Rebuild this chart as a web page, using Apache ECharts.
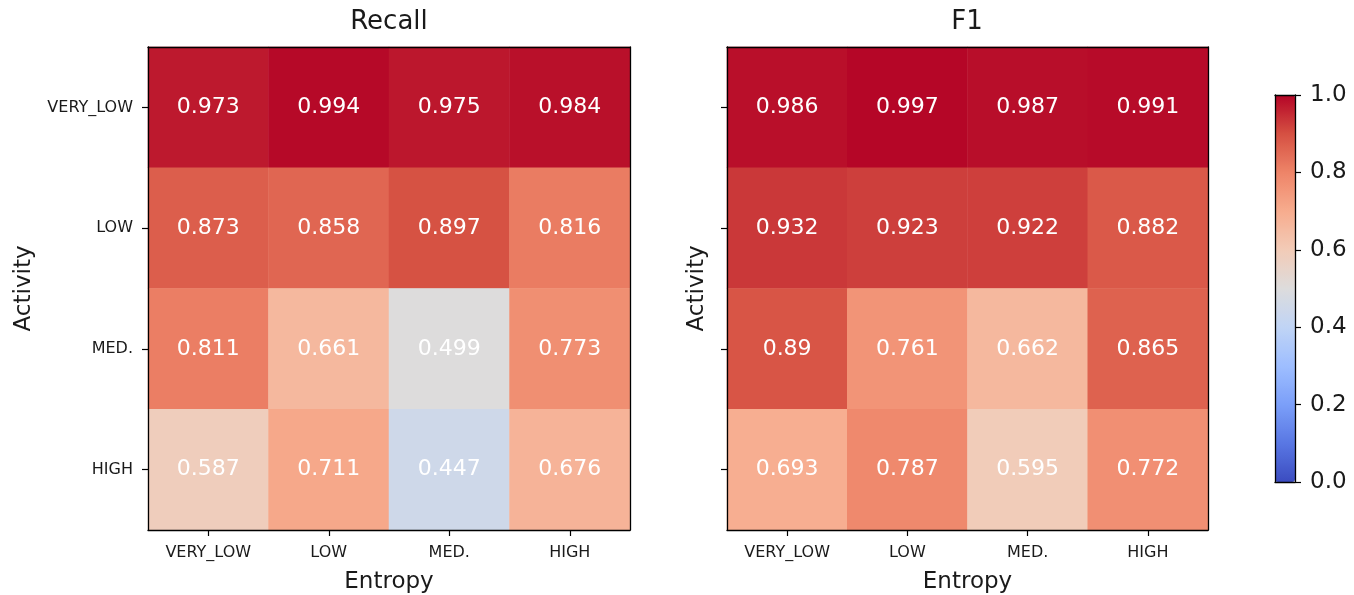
<!DOCTYPE html>
<html>
<head>
<meta charset="utf-8">
<script src="https://cdn.jsdelivr.net/npm/echarts@6/dist/echarts.min.js"></script>
<style>html,body{margin:0;padding:0;background:#fff}#c{width:1354px;height:595px}</style>
</head>
<body>
<div id="c"></div>
<script>
const entropyCats = ['VERY_LOW', 'LOW', 'MED.', 'HIGH'];
const activityCats = ['VERY_LOW', 'LOW', 'MED.', 'HIGH'];
const panelTitles = ['Recall', 'F1'];
// rows = activity (top to bottom), columns = entropy
const recallValues = [
  [0.973, 0.994, 0.975, 0.984],
  [0.873, 0.858, 0.897, 0.816],
  [0.811, 0.661, 0.499, 0.773],
  [0.587, 0.711, 0.447, 0.676]
];
const f1Values = [
  [0.986, 0.997, 0.987, 0.991],
  [0.932, 0.923, 0.922, 0.882],
  [0.89, 0.761, 0.662, 0.865],
  [0.693, 0.787, 0.595, 0.772]
];
const colorbarTicks = [0.0, 0.2, 0.4, 0.6, 0.8, 1.0];
const coolwarm = ['#3b4cc0','#5977e3','#7b9ff9','#9ebeff','#c0d4f5','#dddcdc','#f2cbb7','#f7ac8e','#ee8468','#d55042','#b40426'];

const FONT = 'DejaVu Sans';
const TXT = '#1a1a1a';

function toCells(m) {
  const out = [];
  m.forEach((row, r) => row.forEach((v, c) => out.push([c, r, v])));
  return out;
}

const grids = [
  {left: 148, top: 47, width: 482, height: 483, containLabel: false, outerBoundsMode: 'none'},
  {left: 727, top: 47, width: 481, height: 483, containLabel: false, outerBoundsMode: 'none'},
  {left: 1275, top: 95, width: 20, height: 387, containLabel: false, outerBoundsMode: 'none'}
];

const xAxes = [], yAxes = [];
[0, 1].forEach(g => {
  xAxes.push({
    type: 'category', gridIndex: g, data: entropyCats, position: 'bottom', z: 10,
    name: 'Entropy', nameLocation: 'middle', nameGap: 41,
    nameTextStyle: {fontFamily: FONT, fontSize: 23, color: TXT},
    axisLine: {show: true, lineStyle: {color: '#000', width: 1.3}},
    axisTick: {show: true, alignWithLabel: true, length: 6, lineStyle: {color: '#000', width: 1.2}},
    axisLabel: {fontFamily: FONT, fontSize: 16, color: TXT, margin: 15},
    splitLine: {show: false}
  });
  xAxes.push({
    type: 'category', gridIndex: g, data: entropyCats, position: 'top', z: 10,
    axisLine: {show: true, lineStyle: {color: '#000', width: 1.3}},
    axisTick: {show: false}, axisLabel: {show: false}, splitLine: {show: false}
  });
  yAxes.push({
    type: 'category', gridIndex: g, data: activityCats, inverse: true, position: 'left', z: 10,
    name: 'Activity', nameLocation: 'middle', nameGap: g === 0 ? 112 : 18,
    nameTextStyle: {fontFamily: FONT, fontSize: 23, color: TXT},
    axisLine: {show: true, lineStyle: {color: '#000', width: 1.3}},
    axisTick: {show: true, alignWithLabel: true, length: 6, lineStyle: {color: '#000', width: 1.2}},
    axisLabel: {show: g === 0, fontFamily: FONT, fontSize: 16, color: TXT, margin: 15},
    splitLine: {show: false}
  });
  yAxes.push({
    type: 'category', gridIndex: g, data: activityCats, inverse: true, position: 'right', z: 10,
    axisLine: {show: true, lineStyle: {color: '#000', width: 1.3}},
    axisTick: {show: false}, axisLabel: {show: false}, splitLine: {show: false}
  });
});
// colorbar frame + ticks
xAxes.push({type: 'value', gridIndex: 2, min: 0, max: 1, position: 'bottom', z: 10,
  axisLine: {show: true, onZero: false, lineStyle: {color: '#000', width: 1.3}}, axisTick: {show: false}, axisLabel: {show: false}, splitLine: {show: false}});
xAxes.push({type: 'value', gridIndex: 2, min: 0, max: 1, position: 'top', z: 10,
  axisLine: {show: true, onZero: false, lineStyle: {color: '#000', width: 1.3}}, axisTick: {show: false}, axisLabel: {show: false}, splitLine: {show: false}});
yAxes.push({type: 'value', gridIndex: 2, min: 0, max: 1, interval: 0.2, position: 'left', z: 10,
  axisLine: {show: true, onZero: false, lineStyle: {color: '#000', width: 1.3}}, axisTick: {show: false}, axisLabel: {show: false}, splitLine: {show: false}});
yAxes.push({type: 'value', gridIndex: 2, min: 0, max: 1, interval: 0.2, position: 'right', z: 10,
  axisLine: {show: true, onZero: false, lineStyle: {color: '#000', width: 1.3}},
  axisTick: {show: true, length: 6, lineStyle: {color: '#000', width: 1.2}},
  axisLabel: {fontFamily: FONT, fontSize: 23, color: TXT, margin: 15,
    formatter: v => colorbarTicks.some(t => Math.abs(t - v) < 1e-9) ? v.toFixed(1) : ''},
  splitLine: {show: false}});

function heat(idx, values) {
  return {
    type: 'heatmap', xAxisIndex: idx * 2, yAxisIndex: idx * 2,
    data: toCells(values),
    label: {show: true, color: '#ffffff', fontFamily: FONT, fontSize: 22,
      formatter: p => String(p.value[2])},
    itemStyle: {borderWidth: 0},
    emphasis: {disabled: true}
  };
}

const chart = echarts.init(document.getElementById('c'), null, {renderer: 'canvas'});
chart.setOption({
  animation: false,
  backgroundColor: '#ffffff',
  title: [
    {text: panelTitles[0], left: 389, top: 9, padding: 0, textAlign: 'center',
      textStyle: {fontFamily: FONT, fontSize: 26, fontWeight: 'normal', color: TXT}},
    {text: panelTitles[1], left: 967, top: 9, padding: 0, textAlign: 'center',
      textStyle: {fontFamily: FONT, fontSize: 26, fontWeight: 'normal', color: TXT}}
  ],
  grid: grids,
  xAxis: xAxes,
  yAxis: yAxes,
  visualMap: {
    type: 'continuous', min: 0, max: 1, seriesIndex: [0, 1],
    left: 1275, top: 95, padding: 0, itemWidth: 20, itemHeight: 387,
    calculable: false, hoverLink: false, z: 4,
    inRange: {color: coolwarm}
  },
  series: [heat(0, recallValues), heat(1, f1Values)]
});
</script>
</body>
</html>
